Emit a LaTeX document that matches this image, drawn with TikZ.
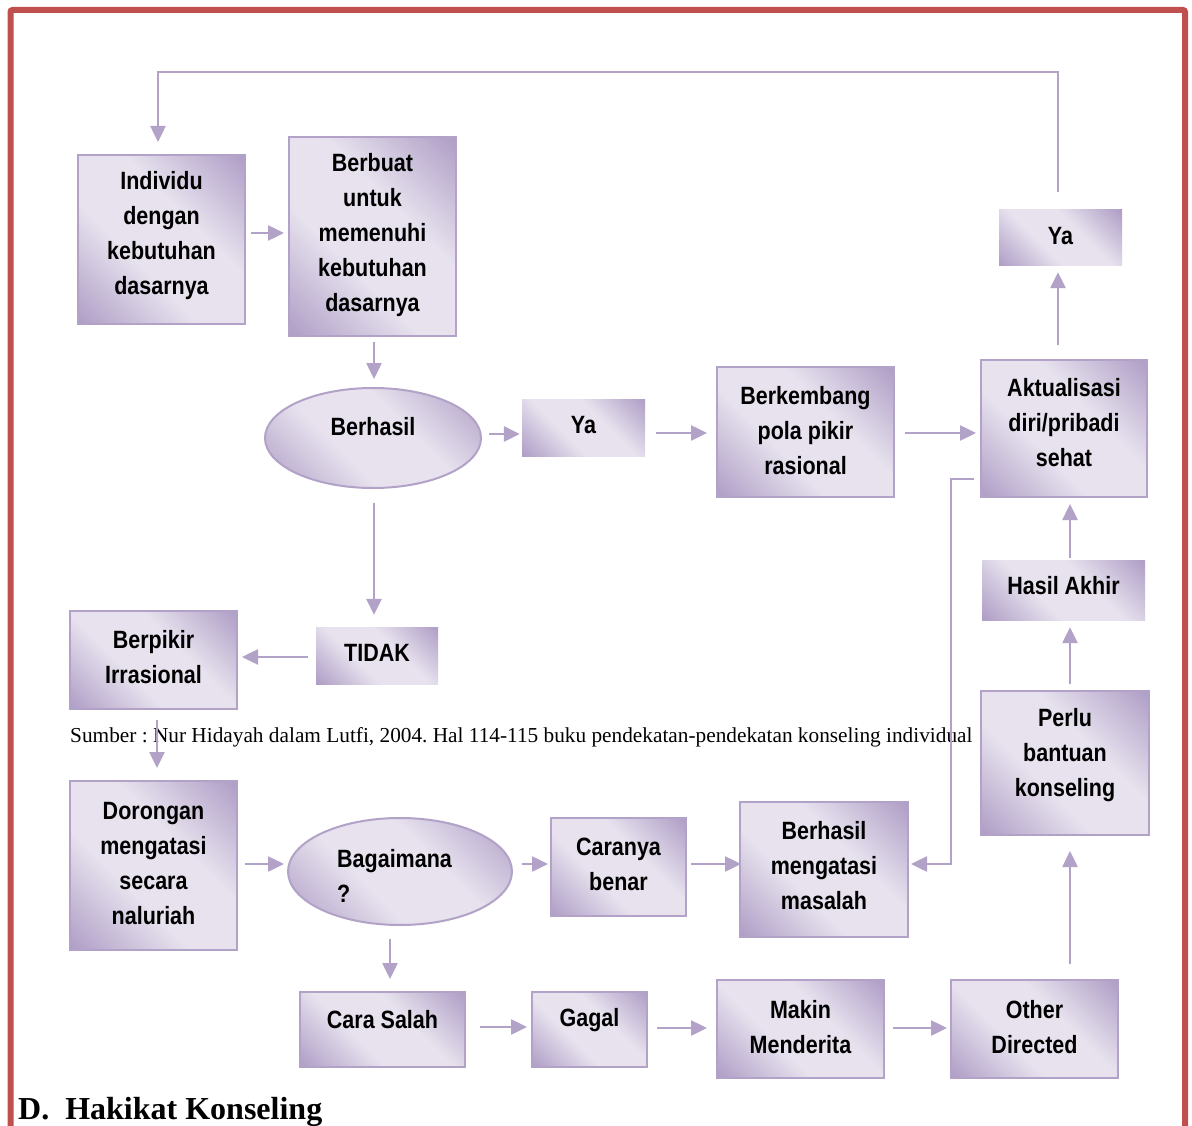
\documentclass[tikz,border=0pt]{standalone}
\usepackage{fontspec}
\newfontfamily\boxfont[FakeStretch=0.86]{Liberation Sans}
\newfontfamily\serifA{Liberation Serif}
\usetikzlibrary{shapes.geometric,arrows.meta,calc}
\definecolor{pdark}{RGB}{175,158,198}
\definecolor{plight}{RGB}{231,226,238}
\definecolor{pline}{RGB}{179,162,199}
\definecolor{redC}{RGB}{192,80,77}
\pgfdeclarehorizontalshading{boxshade}{100bp}{color(0bp)=(pdark); color(15bp)=(pdark); color(40bp)=(plight); color(60bp)=(plight); color(85bp)=(pdark); color(100bp)=(pdark)}
\tikzset{
  box/.style={rectangle, draw=pline, line width=2pt, shading=boxshade, shading angle=45, inner sep=0pt},
  flat/.style={rectangle, shading=boxshade, shading angle=45, inner sep=0pt},
  oval/.style={ellipse, draw=pline, line width=2pt, shading=boxshade, shading angle=45, inner sep=0pt},
  txt/.style={font=\boxfont\bfseries\fontsize{25}{35}\selectfont, align=center, inner sep=0pt, text=black},
  arr/.style={draw=pline, line width=2.5pt, -{Triangle[length=16pt,width=15pt]}},
  frame/.style={draw=redC, line width=6pt, rounded corners=2pt}
}
\begin{document}
\frenchspacing
\begin{tikzpicture}[x=1pt,y=-1pt]
\useasboundingbox (0,0) rectangle (1192,1126);
\clip (0,0) rectangle (1192,1126);
\fill[white] (0,0) rectangle (1192,1126);
\draw[frame] (10.5,1150) -- (10.5,10) -- (1185,10) -- (1185,1150);

% boxes
\node[box, minimum width=167pt, minimum height=169pt] (ind) at (161.5,239.5) {};
\node[box, minimum width=167pt, minimum height=199pt] (berb) at (372.5,236.5) {};
\node[oval, minimum width=216pt, minimum height=100pt] (bh) at (373,438) {};
\node[flat, minimum width=123pt, minimum height=57pt] (ya1) at (583.5,427.5) {};
\node[box, minimum width=177pt, minimum height=130pt] (berk) at (805.5,432) {};
\node[box, minimum width=166pt, minimum height=137pt] (akt) at (1064,428.5) {};
\node[flat, minimum width=123pt, minimum height=56pt] (ya2) at (1060.5,238) {};
\node[flat, minimum width=163pt, minimum height=60pt] (hasil) at (1063.5,590) {};
\node[box, minimum width=168pt, minimum height=144pt] (perlu) at (1065,763) {};
\node[flat, minimum width=122pt, minimum height=57pt] (tidak) at (377,655.5) {};
\node[box, minimum width=167pt, minimum height=98pt] (berp) at (153.5,660) {};
\node[box, minimum width=167pt, minimum height=169pt] (dor) at (153.5,865.5) {};
\node[oval, minimum width=224pt, minimum height=107pt] (bag) at (400,871.5) {};
\node[box, minimum width=135pt, minimum height=98pt] (car) at (618.5,867) {};
\node[box, minimum width=168pt, minimum height=135pt] (bm) at (824,869.5) {};
\node[box, minimum width=165pt, minimum height=75pt] (cs) at (382.5,1029.5) {};
\node[box, minimum width=115pt, minimum height=75pt] (gagal) at (589.5,1029.5) {};
\node[box, minimum width=167pt, minimum height=98pt] (makin) at (800.5,1029) {};
\node[box, minimum width=167pt, minimum height=98pt] (other) at (1034.5,1029) {};

% texts
\node[txt] (ind-t) at (161.5,236) {Individu\\dengan\\kebutuhan\\dasarnya};
\node[txt] (berb-t) at (372.5,235.5) {Berbuat\\untuk\\memenuhi\\kebutuhan\\dasarnya};
\node[txt] (bh-t) at (373,427) {Berhasil};
\node[txt] (ya1-t) at (583.5,425) {Ya};
\node[txt] (berk-t) at (805.5,431) {Berkembang\\pola pikir\\rasional};
\node[txt] (akt-t) at (1064,423) {Aktualisasi\\diri/pribadi\\sehat};
\node[txt] (ya2-t) at (1060.5,236) {Ya};
\node[txt] (hasil-t) at (1063.5,586) {Hasil Akhir};
\node[txt] (perlu-t) at (1065,755) {Perlu\\bantuan\\konseling};
\node[txt] (tidak-t) at (377,653) {TIDAK};
\node[txt] (berp-t) at (153.5,657) {Berpikir\\Irrasional};
\node[txt] (dor-t) at (153.5,863.5) {Dorongan\\mengatasi\\secara\\naluriah};
\node[txt, align=left, anchor=west] (bag-t) at (337,876) {Bagaimana\\?};
\node[txt] (car-t) at (618.5,864.5) {Caranya\\benar};
\node[txt] (bm-t) at (824,866) {Berhasil\\mengatasi\\masalah};
\node[txt] (cs-t) at (382.5,1020) {Cara Salah};
\node[txt] (gagal-t) at (589.5,1020) {Gagal};
\node[txt] (makin-t) at (800.5,1027) {Makin\\Menderita};
\node[txt] (other-t) at (1034.5,1027) {Other\\Directed};

% source and heading
\node[font=\serifA\fontsize{21.3}{24}\selectfont, anchor=base west, inner sep=0pt] (src) at (70,742) {Sumber : Nur Hidayah dalam Lutfi, 2004. Hal 114-115 buku pendekatan-pendekatan konseling individual};
\node[font=\serifA\bfseries\fontsize{32}{36}\selectfont, anchor=base west, inner sep=0pt] (hd) at (18,1119) {D.\hspace{16pt}Hakikat Konseling};

% connectors
\draw[arr] ($(ya2.north)+(-2.5,-18)$) |- ($(ind.north)+(-3.5,-82)$) -- ($(ind.north)+(-3.5,-12)$);
\draw[arr] ($(ind.east)+(5,-6.5)$) -- ($(berb.west)+(-4,-3.5)$);
\draw[arr] ($(berb.south)+(1.5,5)$) -- ($(bh.north)+(1,-8)$);
\draw[arr] ($(bh.east)+(7,-4)$) -- ($(ya1.west)+(-2,6.5)$);
\draw[arr] ($(ya1.east)+(11,5.5)$) -- ($(berk.west)+(-9,1)$);
\draw[arr] ($(berk.east)+(10,1)$) -- ($(akt.west)+(-4,4.5)$);
\draw[arr] ($(akt.north)+(-6,-14)$) -- ($(ya2.south)+(-2.5,6)$);
\draw[arr] ($(bh.south)+(1,14)$) -- ($(tidak.north)+(-3,-12)$);
\draw[arr] ($(tidak.west)+(-8,1.5)$) -- ($(berp.east)+(4,-3)$);
\draw[arr] ($(berp.south)+(3.5,10)$) -- ($(dor.north)+(3.5,-12)$);
\draw[arr] ($(dor.east)+(7,-1.5)$) -- ($(bag.west)+(-3,-7.5)$);
\draw[arr] ($(bag.east)+(9,-7.5)$) -- ($(car.west)+(-2,-3)$);
\draw[arr] ($(car.east)+(4,-3)$) -- ($(bm.west)+(2,-5.5)$);
\draw[arr] ($(akt.west)+(-6,50.5)$) -| ($(bm.east)+(42,-5.5)$) -- ($(bm.east)+(2,-5.5)$);
\draw[arr] ($(bag.south)+(-10,13)$) -- ($(cs.north)+(7.5,-12)$);
\draw[arr] ($(cs.east)+(14,-2.5)$) -- ($(gagal.west)+(-4,-2.5)$);
\draw[arr] ($(gagal.east)+(9,-1.5)$) -- ($(makin.west)+(-9,-1)$);
\draw[arr] ($(makin.east)+(8,-1)$) -- ($(other.west)+(-3,-1)$);
\draw[arr] ($(other.north)+(35.5,-15)$) -- ($(perlu.south)+(5,15)$);
\draw[arr] ($(perlu.north)+(5,-6)$) -- ($(hasil.south)+(6.5,7)$);
\draw[arr] ($(hasil.north)+(6.5,-2)$) -- ($(akt.south)+(6,6)$);
\end{tikzpicture}
\end{document}
